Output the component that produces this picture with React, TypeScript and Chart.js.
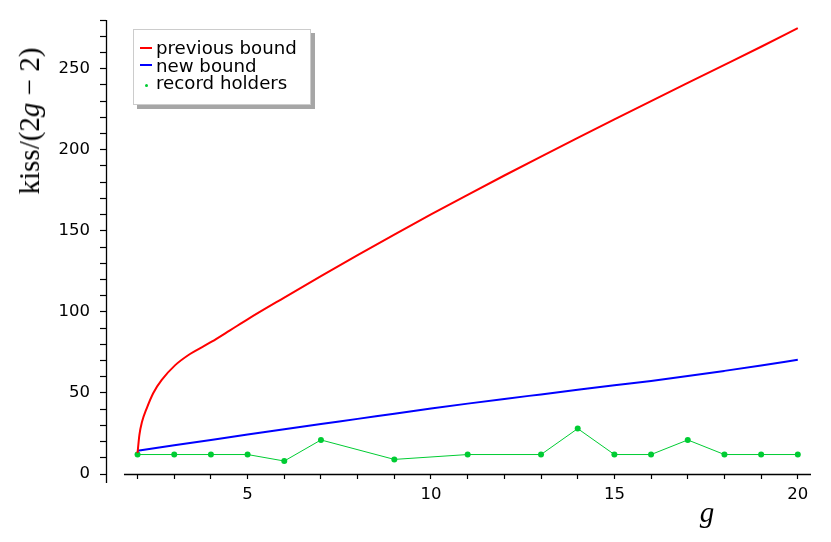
import React, { useEffect, useRef } from "react";
import { Chart, registerables } from "chart.js";

Chart.register(...registerables);

// ---- data ----
const G_PREV = [2, 2.05, 2.12, 2.25, 2.43, 2.66, 3.02, 3.43, 3.7, 4.02, 4.52, 5, 6, 7, 8, 9, 10, 11, 12, 13, 14, 15, 16, 17, 18, 19, 20];
const PREV_BOUND = [13, 24, 32, 40.5, 50, 58, 67, 74, 77.5, 81.6, 88.6, 95.4, 108.8, 122.0, 135.0, 147.7, 160.1, 172.2, 184.1, 195.8, 207.3, 218.7, 230.0, 241.2, 252.3, 263.5, 275];

const G_NEW = [2, 3, 4, 5, 6, 7, 8, 9, 10, 11, 12, 13, 14, 15, 16, 17, 18, 19, 20];
const NEW_BOUND = [14.4, 17.7, 21.0, 24.3, 27.6, 30.8, 34.0, 37.2, 40.4, 43.4, 46.3, 49.1, 51.9, 54.7, 57.4, 60.4, 63.6, 66.9, 70.4];

const G_RECORD = [2, 3, 4, 5, 6, 7, 9, 11, 13, 14, 15, 16, 17, 18, 19, 20];
const KISS_RECORD = [12, 12, 12, 12, 8, 21, 9, 12, 12, 28, 12, 12, 21, 12, 12, 12];

const X_TICKS = [2, 3, 4, 5, 6, 7, 8, 9, 10, 11, 12, 13, 14, 15, 16, 17, 18, 19, 20];
const X_LABELED = [5, 10, 15, 20];
const Y_TICKS = [0, 10, 20, 30, 40, 50, 60, 70, 80, 90, 100, 110, 120, 130, 140, 150, 160, 170, 180, 190, 200, 210, 220, 230, 240, 250, 260, 270, 280];
const Y_LABELED = [0, 50, 100, 150, 200, 250];

const SERIES_LABELS = ["previous bound", "new bound", "record holders"];
const SERIES_COLORS = ["#ff0000", "#0000ff", "rgb(0, 204, 51)"];

// axis extents
const X_MIN = 1.14;
const X_MAX = 20.36;
const X_AXIS_START = 1.63;
const Y_MIN = 0;
const Y_MAX = 280;
const Y_AXIS_LOW = -5.6;

const toPoints = (xs: number[], ys: number[]) => xs.map((x, i) => ({ x, y: ys[i] }));

const axisLinesPlugin = {
  id: "axisLines",
  afterDraw(chart: any) {
    const { ctx, chartArea, scales } = chart;
    const xs = scales.x;
    const ys = scales.y;
    ctx.save();
    ctx.strokeStyle = "#000";
    ctx.lineWidth = 1.3;
    ctx.beginPath();
    const yx = Math.round(chartArea.left) + 0.5;
    ctx.moveTo(yx, ys.getPixelForValue(Y_MAX));
    ctx.lineTo(yx, ys.getPixelForValue(Y_AXIS_LOW));
    const xy = Math.round(ys.getPixelForValue(0)) + 0.5;
    ctx.moveTo(xs.getPixelForValue(X_AXIS_START), xy);
    ctx.lineTo(chartArea.right, xy);
    ctx.stroke();
    ctx.restore();
  },
};

export default function App() {
  const canvasRef = useRef<HTMLCanvasElement | null>(null);

  useEffect(() => {
    const canvas = canvasRef.current;
    if (!canvas) return;
    const tickFont = { family: "'DejaVu Sans'", size: 16.5 };
    const chart = new Chart(canvas, {
      type: "scatter",
      data: {
        datasets: [
          {
            label: SERIES_LABELS[0],
            data: toPoints(G_PREV, PREV_BOUND),
            showLine: true,
            borderColor: SERIES_COLORS[0],
            borderWidth: 2,
            pointRadius: 0,
            cubicInterpolationMode: "monotone",
            order: 0,
          },
          {
            label: SERIES_LABELS[1],
            data: toPoints(G_NEW, NEW_BOUND),
            showLine: true,
            borderColor: SERIES_COLORS[1],
            borderWidth: 2,
            pointRadius: 0,
            cubicInterpolationMode: "monotone",
            order: 1,
          },
          {
            label: SERIES_LABELS[2],
            data: toPoints(G_RECORD, KISS_RECORD),
            showLine: true,
            borderColor: SERIES_COLORS[2],
            backgroundColor: SERIES_COLORS[2],
            borderWidth: 1,
            pointRadius: 3,
            pointBorderWidth: 0,
            pointBackgroundColor: SERIES_COLORS[2],
            order: 2,
          },
        ],
      },
      options: {
        animation: false,
        responsive: false,
        maintainAspectRatio: false,
        layout: { padding: { left: 0, top: 20, right: 20, bottom: 0 } },
        plugins: {
          legend: { display: false },
          tooltip: { enabled: false },
        },
        scales: {
          x: {
            type: "linear",
            min: X_MIN,
            max: X_MAX,
            border: { display: false },
            grid: {
              drawOnChartArea: false,
              drawTicks: true,
              tickLength: 5,
              tickColor: "#000",
              tickWidth: 1.2,
            },
            ticks: {
              autoSkip: false,
              maxRotation: 0,
              color: "#000",
              font: tickFont,
              padding: 6,
              callback: (v: any) => (X_LABELED.includes(Number(v)) ? String(v) : ""),
            },
            afterBuildTicks: (s: any) => {
              s.ticks = X_TICKS.map((v) => ({ value: v }));
            },
            afterFit: (s: any) => {
              s.height = 68;
            },
          },
          y: {
            type: "linear",
            min: Y_MIN,
            max: Y_MAX,
            border: { display: false },
            grid: {
              drawOnChartArea: false,
              drawTicks: true,
              tickLength: 6,
              tickColor: "#000",
              tickWidth: 1.2,
            },
            ticks: {
              autoSkip: false,
              color: "#000",
              font: tickFont,
              padding: 10,
              callback: (v: any) => (Y_LABELED.includes(Number(v)) ? String(v) : ""),
            },
            afterBuildTicks: (s: any) => {
              s.ticks = Y_TICKS.map((v) => ({ value: v }));
            },
            afterFit: (s: any) => {
              s.width = 106;
            },
          },
        },
      },
      plugins: [axisLinesPlugin],
    } as any);
    return () => chart.destroy();
  }, []);

  return (
    <div style={{ position: "fixed", left: 0, top: 0, width: 831, height: 542, background: "#fff" }}>
      <canvas ref={canvasRef} width={831} height={542} style={{ position: "absolute", left: 0, top: 0 }} />
      {/* legend */}
      <div
        style={{
          position: "absolute",
          left: 133,
          top: 29,
          width: 178,
          height: 76,
          background: "#fff",
          border: "1px solid #cccccc",
          boxShadow: "4px 4px 0 #a6a6a6",
          boxSizing: "border-box",
          fontFamily: "'DejaVu Sans'",
          fontSize: 18.2,
          color: "#000",
          paddingTop: 9,
        }}
      >
        {SERIES_LABELS.map((lab, i) => (
          <div key={lab} style={{ display: "flex", alignItems: "center", height: 17.7, lineHeight: "17.7px" }}>
            <div style={{ width: 22, position: "relative", height: 17.7, flex: "none" }}>
              {i < 2 ? (
                <div style={{ position: "absolute", left: 6, width: 12, top: 7.8, height: 2, background: SERIES_COLORS[i] }} />
              ) : (
                <div style={{ position: "absolute", left: 10.5, width: 3.5, top: 9.5, height: 3.5, borderRadius: "50%", background: SERIES_COLORS[i] }} />
              )}
            </div>
            <span style={{ whiteSpace: "nowrap" }}>{lab}</span>
          </div>
        ))}
      </div>
      {/* y axis title */}
      <div
        style={{
          position: "absolute",
          left: 29,
          top: 121,
          transform: "translate(-50%, -50%) rotate(-90deg)",
          whiteSpace: "nowrap",
          fontFamily: "'Liberation Serif', serif",
          fontSize: 29,
          color: "#000",
          lineHeight: "32px",
        }}
      >
        kiss/(2<i>g</i>{"\u2005\u2212\u2005"}2)
      </div>
      {/* x axis title */}
      <div
        style={{
          position: "absolute",
          left: 707,
          top: 512,
          transform: "translate(-50%, -50%)",
          whiteSpace: "nowrap",
          fontFamily: "'Liberation Serif', serif",
          fontStyle: "italic",
          fontSize: 29,
          color: "#000",
          lineHeight: "30px",
        }}
      >
        g
      </div>
    </div>
  );
}
